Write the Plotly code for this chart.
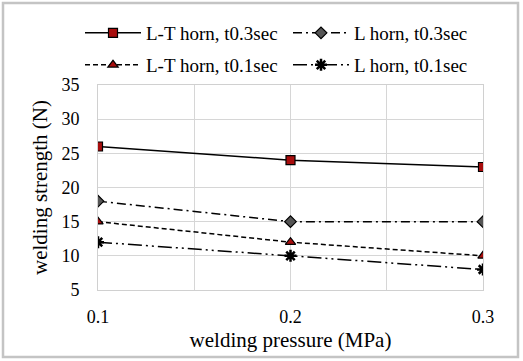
import plotly.graph_objects as go

pressure = [0.1, 0.2, 0.3]
lt_03 = [26, 24, 23]
l_03 = [18, 15, 15]
lt_01 = [15, 12, 10]
l_01 = [12, 10, 8]
names = ["L-T horn, t0.3sec", "L horn, t0.3sec", "L-T horn, t0.1sec", "L horn, t0.1sec"]

W, H = 523, 361
L, R, T, B = 98, 40, 85, 71
pw, ph = W - L - R, H - T - B

fig = go.Figure()
fig.add_trace(go.Scatter(x=pressure, y=lt_03, name=names[0], mode="lines+markers", legend="legend",
                         line=dict(color="black", width=1.5),
                         marker=dict(symbol="square", size=9, color="#a80d0d", line=dict(color="black", width=1.2))))
fig.add_trace(go.Scatter(x=pressure, y=l_03, name=names[1], mode="lines+markers", legend="legend2",
                         line=dict(color="black", width=1.5, dash="9px,4px,2px,4px"),
                         marker=dict(symbol="diamond", size=9, color="#555555", line=dict(color="black", width=1.2))))
fig.add_trace(go.Scatter(x=pressure, y=lt_01, name=names[2], mode="lines+markers", legend="legend3",
                         line=dict(color="black", width=1.5, dash="5px,3px"),
                         marker=dict(symbol="triangle-up", size=9, color="#a80d0d", line=dict(color="black", width=1.2))))
fig.add_trace(go.Scatter(x=pressure, y=l_01, name=names[3], mode="lines+markers", legend="legend4",
                         line=dict(color="black", width=1.5, dash="14px,4px,2px,4px,2px,4px"),
                         marker=dict(symbol="asterisk-open", size=10, color="black", line=dict(color="black", width=2.5))))

font = "Liberation Serif, Times New Roman, serif"
leg = dict(xanchor="left", yanchor="middle", itemwidth=56, visible=True,
           font=dict(family=font, size=19, color="black"), bgcolor="rgba(0,0,0,0)")
c1, c2, r1, r2 = 80, 288, 33, 65
px = lambda v: (v - L) / pw
py = lambda v: (H - B - v) / ph
fig.update_layout(
    width=W, height=H, showlegend=True,
    margin=dict(l=L, r=R, t=T, b=B, autoexpand=False),
    paper_bgcolor="white", plot_bgcolor="white",
    font=dict(family=font, size=18, color="black"),
    legend=dict(leg, x=px(c1), y=py(r1)),
    legend2=dict(leg, x=px(c2), y=py(r1)),
    legend3=dict(leg, x=px(c1), y=py(r2)),
    legend4=dict(leg, x=px(c2), y=py(r2)),
    xaxis=dict(range=[0.1, 0.3], tickvals=pressure, ticktext=["0.1", "0.2", "0.3"],
               showgrid=False, zeroline=False, showline=True, linecolor="#d0d0d0", mirror=True,
               ticks="outside", ticklen=10, tickcolor="rgba(0,0,0,0)",
               title=dict(text="welding pressure (MPa)", font=dict(size=21), standoff=6),
               minor=dict(dtick=0.05, tick0=0.1, showgrid=True, gridcolor="#d6d6d6", gridwidth=1)),
    yaxis=dict(range=[5, 35], dtick=5, showgrid=True, gridcolor="#d6d6d6", zeroline=False,
               showline=True, linecolor="#d0d0d0", mirror=True,
               ticks="outside", ticklen=14, tickcolor="rgba(0,0,0,0)",
               title=dict(text="welding strength (N)", font=dict(size=21), standoff=8)),
    shapes=[dict(type="rect", xref="paper", yref="paper",
                 x0=px(3), x1=px(518), y0=py(357), y1=py(3),
                 line=dict(color="#c4c4c4", width=2.5), fillcolor="rgba(0,0,0,0)", layer="below")],
)
fig.write_html("out.html", config={"displayModeBar": False},
               post_script="document.body.style.margin='0';")
